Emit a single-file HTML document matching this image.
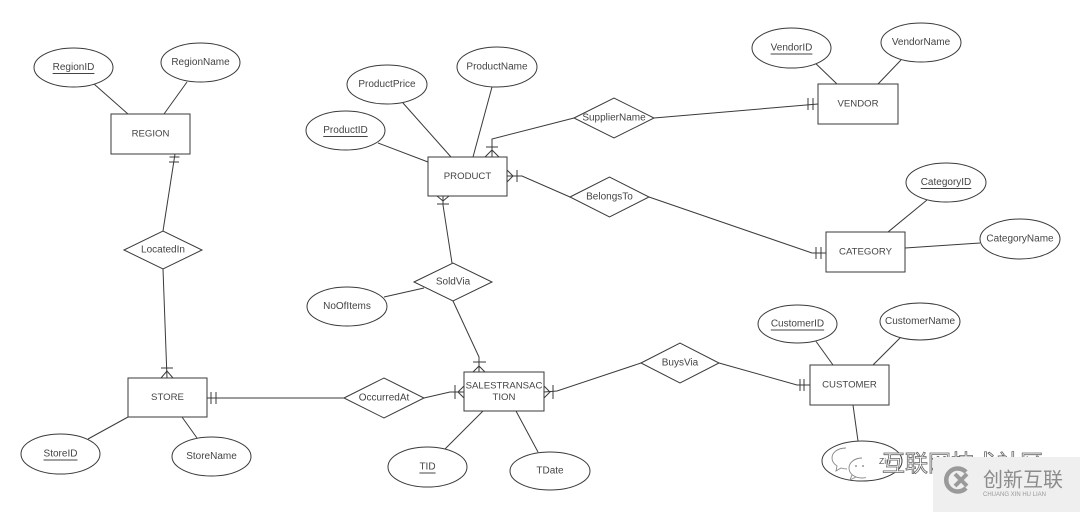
<!DOCTYPE html>
<html><head><meta charset="utf-8"><style>
html,body{margin:0;padding:0;background:#fff;}
svg{display:block;}
text{font-family:"Liberation Sans",Arial,sans-serif;font-size:10px;fill:#444;text-anchor:middle;dominant-baseline:central;}
.e{font-size:9.6px;}
.s{stroke:#3a3a3a;stroke-width:1;fill:none;}
.f{stroke:#3a3a3a;stroke-width:1;fill:#fff;}
</style></head><body>
<svg width="1080" height="512" viewBox="0 0 1080 512" xmlns="http://www.w3.org/2000/svg">
<rect width="1080" height="512" fill="#fff"/>
<!-- connectors -->
<g class="s">
<line x1="94" y1="84" x2="128" y2="114"/>
<line x1="187" y1="82" x2="164" y2="114"/>
<line x1="175" y1="154" x2="163" y2="231"/>
<line x1="169.5" y1="157" x2="179.5" y2="157"/><line x1="169" y1="162" x2="179" y2="162"/>
<line x1="163" y1="269" x2="167" y2="378"/>
<line x1="161" y1="368" x2="173" y2="368"/>
<polyline points="161,378 167,371 173,378"/>
<line x1="88" y1="439" x2="128" y2="417"/>
<line x1="197" y1="438" x2="182" y2="417"/>
<line x1="207" y1="398" x2="344" y2="398"/>
<line x1="211" y1="392" x2="211" y2="404"/><line x1="216" y1="392" x2="216" y2="404"/>
<polyline points="424,398 450,392 464,392"/>
<line x1="455" y1="385" x2="455" y2="399"/>
<polyline points="464,386 458,392 464,398"/>
<polyline points="453,301 479,357 479,372"/>
<line x1="473" y1="362" x2="486" y2="362"/>
<polyline points="473,372 479,366 485,372"/>
<line x1="384" y1="297" x2="424" y2="288"/>
<polyline points="443,196 443,205 452,263"/>
<line x1="437" y1="204" x2="449" y2="204"/>
<polyline points="437,196 443,201 449,196"/>
<line x1="445" y1="449" x2="483" y2="411"/>
<line x1="538" y1="452" x2="516" y2="411"/>
<polyline points="544,392 557,391 641,363"/>
<polyline points="544,386 550,392 544,398"/>
<line x1="553" y1="385" x2="553" y2="399"/>
<polyline points="719,363 797,385 810,385"/>
<line x1="800" y1="379" x2="800" y2="391"/><line x1="804" y1="379" x2="804" y2="391"/>
<line x1="815" y1="340" x2="833" y2="365"/>
<line x1="900" y1="338" x2="873" y2="365"/>
<line x1="853" y1="405" x2="858" y2="441"/>
<polyline points="492,157 492,139 574,118"/>
<line x1="486" y1="147" x2="498" y2="147"/>
<polyline points="485,157 492,150 499,157"/>
<line x1="654" y1="118" x2="818" y2="104"/>
<line x1="808" y1="98" x2="808" y2="110"/><line x1="813" y1="98" x2="813" y2="110"/>
<line x1="378" y1="143" x2="428" y2="162"/>
<line x1="403" y1="103" x2="451" y2="157"/>
<line x1="492" y1="87" x2="473" y2="157"/>
<line x1="810" y1="58" x2="837" y2="84"/>
<line x1="901" y1="60" x2="878" y2="84"/>
<polyline points="507,176 522,176 570,197"/>
<polyline points="507,170 513,176 507,182"/>
<line x1="517" y1="170" x2="517" y2="182"/>
<polyline points="649,197 812,253 826,253"/>
<line x1="816" y1="247" x2="816" y2="259"/><line x1="821" y1="247" x2="821" y2="259"/>
<line x1="927" y1="200" x2="888" y2="232"/>
<line x1="980" y1="243" x2="905" y2="248"/>
</g>
<!-- entities -->
<g class="f">
<rect x="111" y="114" width="79" height="40"/>
<rect x="428" y="157" width="79" height="39"/>
<rect x="818" y="84" width="80" height="40"/>
<rect x="826" y="232" width="79" height="40"/>
<rect x="128" y="378" width="79" height="39"/>
<rect x="464" y="372" width="80" height="39"/>
<rect x="810" y="365" width="79" height="40"/>
</g>
<text class="e" x="150.5" y="134">REGION</text>
<text class="e" x="467.5" y="176.5">PRODUCT</text>
<text class="e" x="858" y="104">VENDOR</text>
<text class="e" x="865.5" y="252">CATEGORY</text>
<text class="e" x="167.5" y="397.5">STORE</text>
<text class="e" x="504" y="386">SALESTRANSAC</text>
<text class="e" x="504" y="397.5">TION</text>
<text class="e" x="849.5" y="385">CUSTOMER</text>
<!-- attributes -->
<g class="f">
<ellipse cx="73.5" cy="67.5" rx="39.5" ry="19.5"/>
<ellipse cx="200.5" cy="62.5" rx="39.5" ry="19.5"/>
<ellipse cx="345.5" cy="130.5" rx="39.5" ry="19.5"/>
<ellipse cx="387" cy="84.5" rx="40" ry="19.5"/>
<ellipse cx="497" cy="67" rx="40" ry="20"/>
<ellipse cx="791.5" cy="48" rx="39.5" ry="20"/>
<ellipse cx="921" cy="42.5" rx="40" ry="19.5"/>
<ellipse cx="946" cy="182.5" rx="40" ry="19.5"/>
<ellipse cx="1020" cy="239" rx="40" ry="20"/>
<ellipse cx="347" cy="306.5" rx="40" ry="19.5"/>
<ellipse cx="60.5" cy="454" rx="39.5" ry="20"/>
<ellipse cx="211.5" cy="456.5" rx="39.5" ry="19.5"/>
<ellipse cx="427.5" cy="467" rx="39.5" ry="20"/>
<ellipse cx="550" cy="471" rx="40" ry="19"/>
<ellipse cx="797.5" cy="324" rx="39.5" ry="19"/>
<ellipse cx="920" cy="321.5" rx="40" ry="18.5"/>
<ellipse cx="862" cy="461" rx="40" ry="20"/>
</g>
<text x="73.5" y="67.5" text-decoration="underline">RegionID</text>
<text x="200.5" y="62.5">RegionName</text>
<text x="345.5" y="130.5" text-decoration="underline">ProductID</text>
<text x="387" y="84.5">ProductPrice</text>
<text x="497" y="67">ProductName</text>
<text x="791.5" y="48" text-decoration="underline">VendorID</text>
<text x="921" y="42.5">VendorName</text>
<text x="946" y="182.5" text-decoration="underline">CategoryID</text>
<text x="1020" y="239">CategoryName</text>
<text x="347" y="306.5">NoOfItems</text>
<text x="60.5" y="454" text-decoration="underline">StoreID</text>
<text x="211.5" y="456.5">StoreName</text>
<text x="427.5" y="467" text-decoration="underline">TID</text>
<text x="550" y="471">TDate</text>
<text x="797.5" y="324" text-decoration="underline">CustomerID</text>
<text x="920" y="321.5">CustomerName</text>
<!-- relationships -->
<g class="f">
<polygon points="124,250 163,231 202,250 163,269"/>
<polygon points="574,118 614,98 654,118 614,138"/>
<polygon points="570,197 609.5,177 649,197 609.5,217"/>
<polygon points="414,282 453,263 492,282 453,301"/>
<polygon points="344,398 384,378 424,398 384,418"/>
<polygon points="641,363 680,343 719,363 680,383"/>
</g>
<text x="163" y="250">LocatedIn</text>
<text x="614" y="118">SupplierName</text>
<text x="609.5" y="197">BelongsTo</text>
<text x="453" y="282">SoldVia</text>
<text x="384" y="398">OccurredAt</text>
<text x="680" y="363">BuysVia</text>
<!-- watermark -->
<g fill="none" stroke="#888" stroke-width="0.9">
<path d="M846,448 c-9,0 -14,5 -14,10 c0,3 2,6 5,8 l-1,5 l5,-3 c2,0.5 4,1 6,1"/>
<path d="M862,458 c-8,0 -13,5 -13,10 c0,6 6,10 13,10 c-2,0 3,0 4,-0.5" />
<path d="M852,475 l-2,5 l6,-3"/>
</g>
<circle cx="856" cy="466" r="0.9" fill="#777"/><circle cx="863" cy="466" r="0.9" fill="#777"/>
<text x="879" y="461" style="font-size:8.5px;text-anchor:start;fill:#555;">Zip</text>
<text x="882" y="461" style="font-family:'Noto Sans CJK SC',sans-serif;font-size:23px;text-anchor:start;fill:#fff;stroke:#666;stroke-width:0.8;">互联网技术社区</text>
<rect x="933" y="457" width="147" height="55" fill="#efefef"/>
<path d="M966,472 A11.5,11.5 0 1 0 966,488" fill="none" stroke="#9a9a9a" stroke-width="4.5"/>
<path d="M955,474 l12,12 M967,474 l-12,12" stroke="#9a9a9a" stroke-width="4"/>
<text x="983" y="478" style="font-family:'Noto Sans CJK SC',sans-serif;font-size:20px;text-anchor:start;fill:#8c8c8c;">创新互联</text>
<text x="983" y="495" style="font-size:6px;text-anchor:start;fill:#999;">CHUANG XIN HU LIAN</text>
</svg>
</body></html>
